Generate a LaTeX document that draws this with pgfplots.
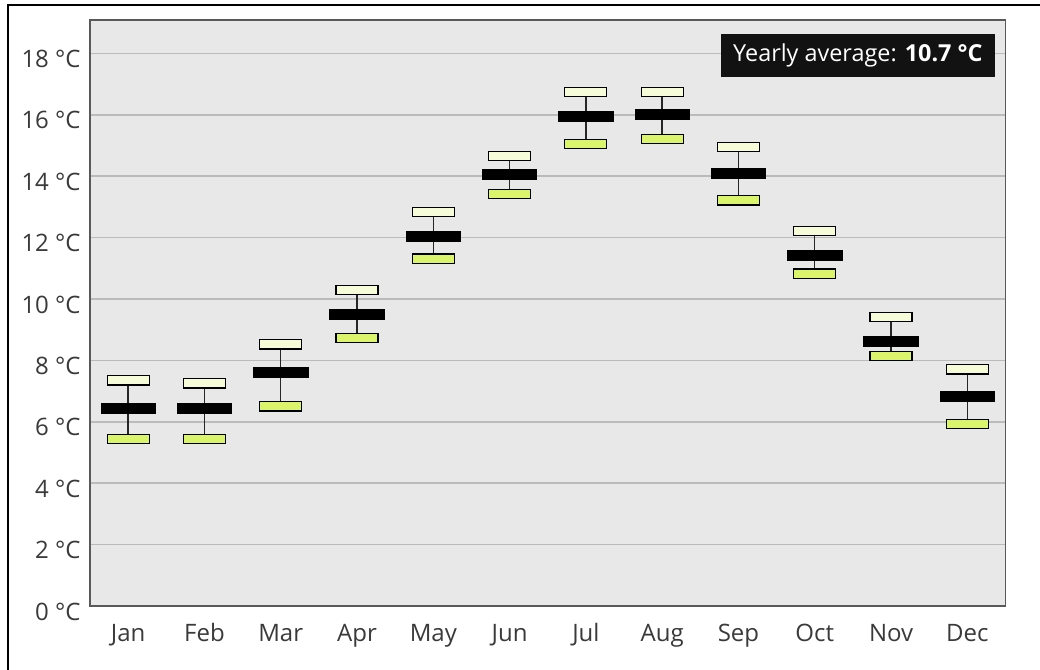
\documentclass[border=0pt]{standalone}
\usepackage{fontspec}
\setmainfont{Open Sans}
\usepackage{pgfplots}
\usepackage{pgfplotstable}
\pgfplotsset{compat=1.18}
\definecolor{bgc}{HTML}{E8E8E8}
\definecolor{gridc}{HTML}{BBBBBB}
\definecolor{hic}{HTML}{F7FCD8}
\definecolor{loc}{HTML}{DAF46C}
\definecolor{txt}{HTML}{3A3A3A}
\pgfdeclareplotmark{meanbar}{\pgfpathrectangle{\pgfpoint{-13.6pt}{-2.5pt}}{\pgfpoint{27.2pt}{5pt}}\pgfusepathqfillstroke}
\pgfdeclareplotmark{smallbox}{\pgfpathrectangle{\pgfpoint{-10.5pt}{-2.3pt}}{\pgfpoint{21pt}{4.6pt}}\pgfusepathqfillstroke}
\pgfplotstableread{
x mean hi lo
0 6.45 7.35 5.44
1 6.45 7.25 5.44
2 7.62 8.52 6.50
3 9.51 10.30 8.73
4 12.04 12.84 11.32
5 14.06 14.65 13.42
6 15.95 16.75 15.06
7 16.02 16.75 15.22
8 14.10 14.95 13.21
9 11.43 12.21 10.83
10 8.62 9.41 8.14
11 6.82 7.71 5.92
}\data
\begin{document}
\begin{tikzpicture}
\useasboundingbox (0,0) rectangle (520pt,335pt);
\fill[white] (0,0) rectangle (520pt,335pt);
\draw[line width=1.2pt, black] (4pt,-2pt) -- (4pt,332.5pt) -- (522pt,332.5pt);
\begin{axis}[
  at={(45pt,32pt)}, anchor=south west,
  scale only axis, width=457.75pt, height=293pt,
  xmin=-0.5, xmax=11.5, ymin=0, ymax=19.09,
  axis background/.style={fill=bgc},
  axis line style={draw=black!65, line width=0.8pt},
  ytick={0,2,...,18}, xtick={0,...,11},
  xticklabels={Jan,Feb,Mar,Apr,May,Jun,Jul,Aug,Sep,Oct,Nov,Dec},
  major tick length=0pt,
  ymajorgrids, grid style={gridc, line width=0.8pt},
  yticklabel={\pgfmathprintnumber[assume math mode=true]{\tick}~°C},
  ticklabel style={font=\fontsize{12}{14}\selectfont, text=txt, inner sep=0pt},
  yticklabel style={anchor=base east, xshift=-4.5pt, yshift=-7pt},
  xticklabel style={anchor=base, yshift=-17.5pt},
  clip=false,
]
\addplot[only marks, mark=none, draw=black, line width=0.7pt,
  error bars/.cd, y dir=both, y explicit, error mark=none,
  error bar style={line width=0.7pt, black!85}]
  table[x=x, y=mean, y error plus expr=\thisrow{hi}-\thisrow{mean}, y error minus expr=\thisrow{mean}-\thisrow{lo}] {\data};
\addplot[only marks, mark=smallbox, mark options={fill=hic, draw=black, line width=0.6pt}] table[x=x, y=hi] {\data};
\addplot[only marks, mark=smallbox, mark options={fill=loc, draw=black, line width=0.6pt}] table[x=x, y=lo] {\data};
\addplot[only marks, mark=meanbar, mark options={fill=black, draw=black, line width=0.4pt}] table[x=x, y=mean] {\data};
\node[anchor=north east, fill=black!93, text=white, inner xsep=6pt, minimum height=21.5pt,
  font=\fontsize{11.7}{14}\selectfont] at ([xshift=-5.25pt, yshift=-7pt]rel axis cs:1,1)
  {Yearly average: \textbf{10.7 °C}};
\end{axis}
\end{tikzpicture}
\end{document}
